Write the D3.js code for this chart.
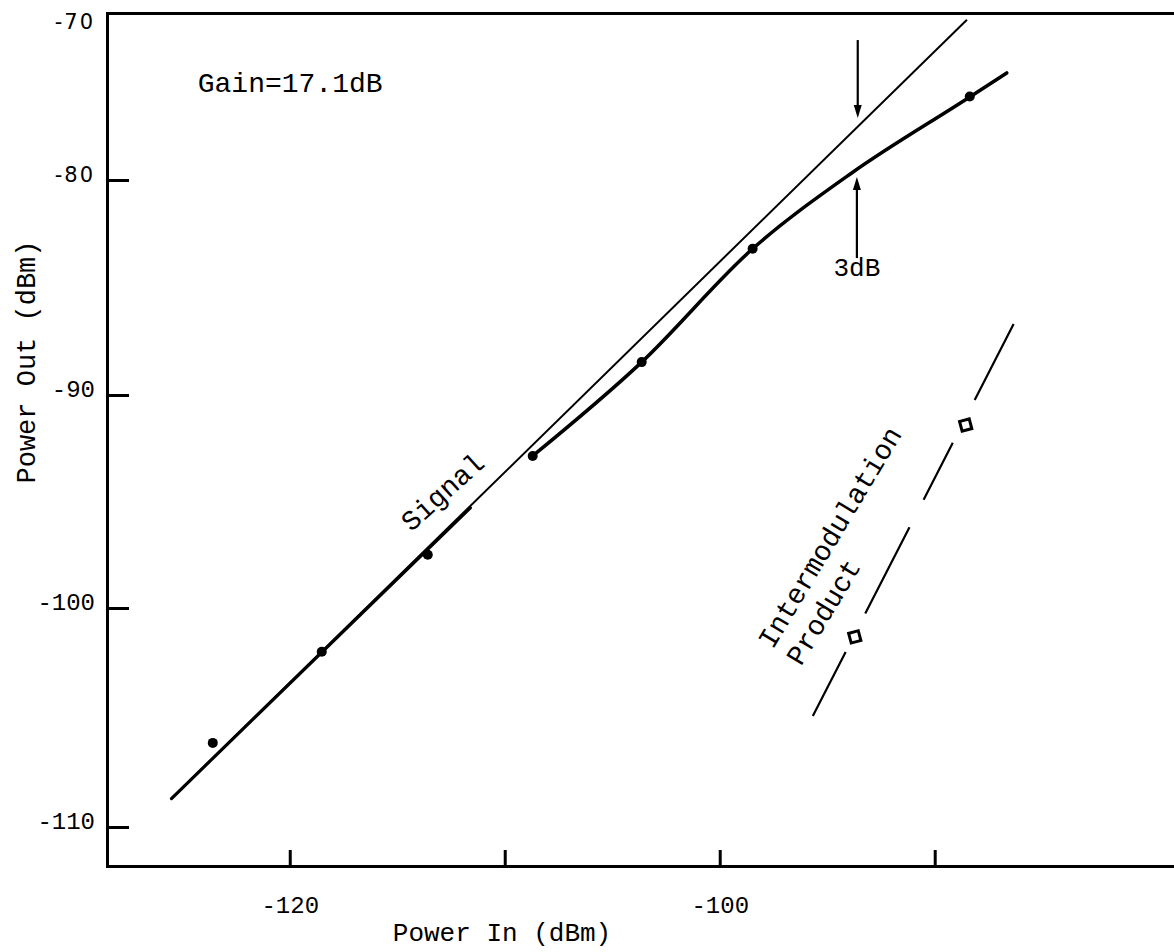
<!DOCTYPE html>
<html>
<head>
<meta charset="utf-8">
<script src="https://cdn.jsdelivr.net/npm/d3@7"></script>
<style>
  body { margin: 0; background: #fff; }
  svg { display: block; }
  .mono { font-family: "Liberation Mono", "DejaVu Sans Mono", monospace; fill: #000; }
</style>
</head>
<body>
<div id="chart"></div>
<script>
/* ── data ───────────────────────────────────────────────────── */
const xTicks    = [-120, -110, -100, -90];
const xLabelled = [-120, -100];
const yTicks    = [-110, -100, -90, -80, -70];

// measured signal points (Power In, Power Out)
const signalIn  = [-123.58, -118.51, -113.58, -108.70, -103.63, -98.47, -88.37];
const signalOut = [-106.16, -102.00, -97.50, -92.86, -88.47, -83.20, -75.00];

// ideal gain line (Gain = 17.1 dB)
const gainIn  = [-125.5, -88.5];
const gainOut = [-108.7, -70.4];

// low-level fitted part (drawn heavier over the gain line)
const lowFitIn  = [-125.5, -111.6];
const lowFitOut = [-108.7, -95.3];

// compressed part of the signal curve
const compIn  = [-108.70, -103.63, -98.47, -93.86, -88.37, -86.65];
const compOut = [-92.86, -88.47, -83.20, -79.58, -75.03, -73.59];

// intermodulation product
const imIn      = [-93.72, -88.56];
const imOut     = [-101.32, -91.41];
const imLineIn  = [-95.67, -86.33];
const imLineOut = [-104.93, -86.70];

/* ── layout ─────────────────────────────────────────────────── */
const W = 1174, H = 952;
const X0 = 107, X1 = 1174, YB = 866, YT = 13;

const svg = d3.select('#chart').append('svg')
  .attr('width', W).attr('height', H);

// x is linear; the scanned y axis is uneven (-70..-80 is shorter), so piecewise
const x = d3.scaleLinear().domain([-128.5, -78.87]).range([X0, X1]);
const y = d3.scaleLinear()
  .domain([-111.78, -110, -100, -90, -80, -70])
  .range([YB, 827, 608, 395, 180, YT]);

/* ── axes ───────────────────────────────────────────────────── */
const yAxisG = svg.append('g').attr('transform', `translate(${X0},0)`)
  .call(d3.axisLeft(y).tickValues(yTicks).tickSize(-22).tickSizeOuter(0)
    .tickPadding(12).tickFormat(d => String(d)));

const xAxisG = svg.append('g').attr('transform', `translate(0,${YB})`)
  .call(d3.axisBottom(x).tickValues(xTicks).tickSize(-16).tickSizeOuter(0)
    .tickPadding(30).tickFormat(d => xLabelled.includes(d) ? String(d) : ''));

const topAxisG = svg.append('g').attr('transform', `translate(0,${YT})`)
  .call(d3.axisTop(x).tickValues([]).tickSizeOuter(0));

[yAxisG, xAxisG, topAxisG].forEach(g => {
  g.select('.domain').attr('stroke', '#000').attr('stroke-width', 3)
    .attr('stroke-linecap', 'square');
  g.selectAll('.tick line').attr('stroke', '#000').attr('stroke-width', 3);
});

yAxisG.selectAll('.tick text')
  .attr('fill', '#000')
  .attr('dy', d => d === -70 ? 15 : 1)
  .each(function (d) {
    const t = d3.select(this);
    if (d >= -80) {
      t.attr('font-family', '"DejaVu Sans", sans-serif').attr('font-size', 21)
        .attr('letter-spacing', 2);
    } else {
      t.attr('class', 'mono').attr('font-size', 24);
    }
  });

xAxisG.selectAll('.tick text')
  .attr('class', 'mono').attr('font-size', 24).attr('fill', '#000');

svg.append('text').attr('class', 'mono')
  .attr('transform', `translate(35,362) rotate(-90)`)
  .attr('text-anchor', 'middle').attr('font-size', 27)
  .text('Power Out (dBm)');

svg.append('text').attr('class', 'mono')
  .attr('x', 502).attr('y', 941)
  .attr('text-anchor', 'middle').attr('font-size', 26)
  .text('Power In (dBm)');

/* ── curves ─────────────────────────────────────────────────── */
const line = d3.line().x(d => x(d[0])).y(d => y(d[1]));

svg.append('path').datum(d3.zip(gainIn, gainOut))
  .attr('d', line).attr('fill', 'none')
  .attr('stroke', '#000').attr('stroke-width', 2);

svg.append('path').datum(d3.zip(lowFitIn, lowFitOut))
  .attr('d', line).attr('fill', 'none')
  .attr('stroke', '#000').attr('stroke-width', 3.2).attr('stroke-linecap', 'round');

svg.append('path').datum(d3.zip(compIn, compOut))
  .attr('d', d3.line().x(d => x(d[0])).y(d => y(d[1])).curve(d3.curveMonotoneX))
  .attr('fill', 'none')
  .attr('stroke', '#000').attr('stroke-width', 3.5).attr('stroke-linecap', 'round');

svg.selectAll('.sig').data(d3.zip(signalIn, signalOut)).enter()
  .append('circle').attr('class', 'sig')
  .attr('cx', d => x(d[0])).attr('cy', d => y(d[1]))
  .attr('r', 5).attr('fill', '#000');

// intermodulation product: long-dashed line with open squares in the gaps
svg.append('path').datum(d3.zip(imLineIn, imLineOut))
  .attr('d', line).attr('fill', 'none')
  .attr('stroke', '#000').attr('stroke-width', 2.2)
  .attr('stroke-dasharray', '72 43 97 31 64 48 86');

svg.selectAll('.im').data(d3.zip(imIn, imOut)).enter()
  .append('rect').attr('class', 'im')
  .attr('x', d => x(d[0]) - 5).attr('y', d => y(d[1]) - 5)
  .attr('width', 10).attr('height', 10)
  .attr('transform', d => `rotate(-15,${x(d[0])},${y(d[1])})`)
  .attr('fill', '#fff').attr('stroke', '#000').attr('stroke-width', 3);

/* ── annotations ────────────────────────────────────────────── */
function arrow(xv, fromV, toV) {
  const x0 = x(xv), y0 = y(fromV), y1 = y(toV);
  const dir = y1 > y0 ? 1 : -1;
  svg.append('line')
    .attr('x1', x0).attr('y1', y0).attr('x2', x0).attr('y2', y1 - dir * 8)
    .attr('stroke', '#000').attr('stroke-width', 2.2);
  svg.append('path')
    .attr('d', `M${x0},${y1}L${x0 - 4},${y1 - dir * 13}L${x0 + 4},${y1 - dir * 13}Z`)
    .attr('fill', '#000');
}
arrow(-93.58, -71.62, -76.29);
arrow(-93.62, -83.63, -79.82);

svg.append('text').attr('class', 'mono')
  .attr('x', x(-93.62)).attr('y', y(-84.45))
  .attr('text-anchor', 'middle').attr('font-size', 26)
  .text('3dB');

svg.append('text').attr('class', 'mono')
  .attr('x', x(-124.28)).attr('y', y(-74.73))
  .attr('font-size', 28)
  .text('Gain=17.1dB');

svg.append('text').attr('class', 'mono')
  .attr('transform', `translate(${x(-114.35)},${y(-96.46)}) rotate(-42)`)
  .attr('font-size', 28)
  .text('Signal');

const imLabel = svg.append('text').attr('class', 'mono')
  .attr('transform', `translate(${x(-97.53)},${y(-101.92)}) rotate(-59)`)
  .attr('font-size', 28);
imLabel.append('tspan').attr('x', 0).attr('dy', 0).text('Intermodulation');
imLabel.append('tspan').attr('x', 0).attr('dy', 33).text('Product');
</script>
</body>
</html>
